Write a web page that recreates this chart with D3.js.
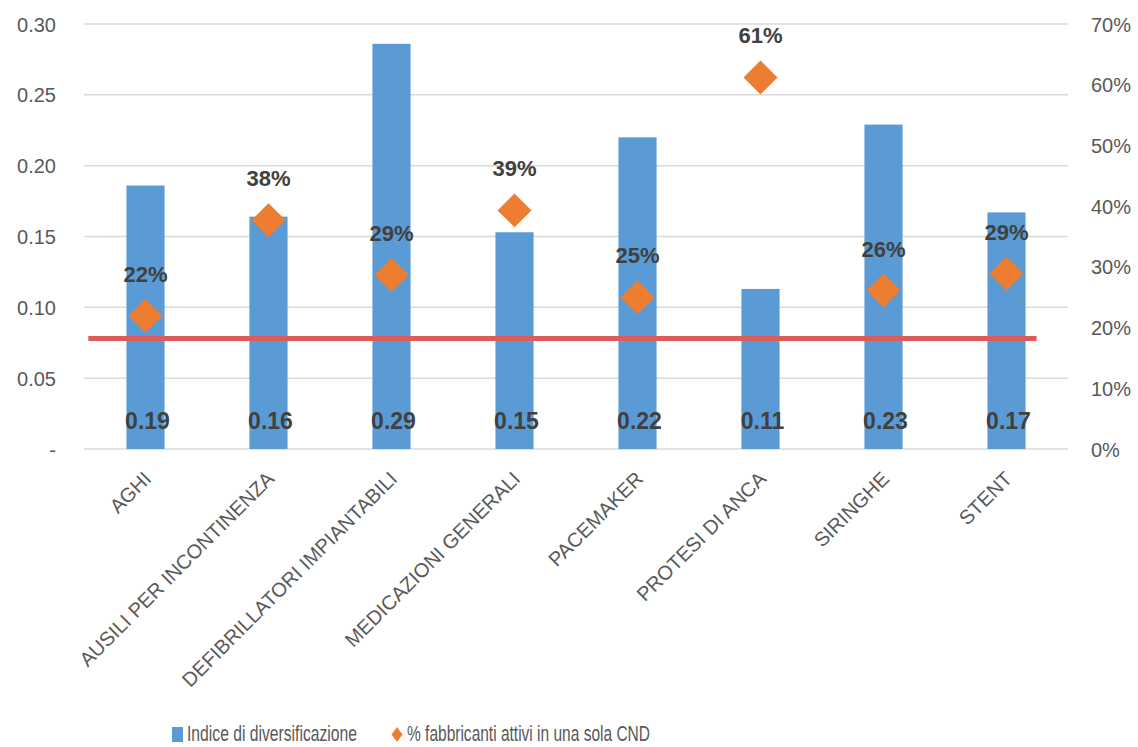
<!DOCTYPE html>
<html>
<head>
<meta charset="utf-8">
<script src="https://cdn.jsdelivr.net/npm/d3@7"></script>
<style>
  body { margin: 0; background: #fff; }
  svg { display: block; font-family: 'Liberation Sans', Arial, sans-serif; }
</style>
</head>
<body>
<svg id="chart" width="1138" height="747"></svg>
<script>
// categorie CND
const categories = ['AGHI', 'AUSILI PER INCONTINENZA', 'DEFIBRILLATORI IMPIANTABILI',
    'MEDICAZIONI GENERALI', 'PACEMAKER', 'PROTESI DI ANCA', 'SIRINGHE', 'STENT']
// indice di diversificazione (asse sinistro)
const indice = [0.186, 0.164, 0.286, 0.153, 0.220, 0.113, 0.229, 0.167]
// % fabbricanti attivi in una sola CND (asse destro)
const quota = [0.219, 0.377, 0.287, 0.393, 0.250, 0.612, 0.261, 0.289]
// linea di riferimento sull'indice
const soglia = 0.078
const leftTicks = [0, 0.05, 0.10, 0.15, 0.20, 0.25, 0.30]
const rightTicks = [0, 0.1, 0.2, 0.3, 0.4, 0.5, 0.6, 0.7]
const legendLabels = ['Indice di diversificazione', '% fabbricanti attivi in una sola CND']

const BLUE = '#5b9bd5', ORANGE = '#ed7d31', RED = '#dc5c5c'

let svg = d3.select('#chart')
let plotLeft = 84, plotRight = 1068, plotTop = 24, plotBottom = 449

let x = d3.scaleBand().domain(categories).range([plotLeft, plotRight])
    .paddingInner(0.69).paddingOuter(0.345)
let y = d3.scaleLinear().domain([0, 0.30]).range([plotBottom, plotTop])
let y2 = d3.scaleLinear().domain([0, 0.70]).range([plotBottom, plotTop])

// griglia
svg.append('g')
    .selectAll('line')
    .data(leftTicks)
    .enter()
    .append('line')
    .attr('x1', plotLeft).attr('x2', plotRight)
    .attr('y1', d => y(d)).attr('y2', d => y(d))
    .attr('stroke', '#d9d9d9')
    .attr('stroke-width', 1.5)

// asse sinistro
let yAxis = svg.append('g')
    .attr('transform', 'translate(' + (plotLeft - 28) + ',0)')
    .call(d3.axisLeft(y).tickValues(leftTicks).tickSize(0)
        .tickFormat(d => d === 0 ? '-' : d3.format('.2f')(d)))
yAxis.select('.domain').remove()
yAxis.selectAll('text')
    .attr('font-size', 20).attr('fill', '#595959')
    .attr('font-family', "'Liberation Sans', Arial, sans-serif")
    .attr('dy', '0.35em').attr('x', 0)

// asse destro
let y2Axis = svg.append('g')
    .attr('transform', 'translate(' + (plotRight + 23) + ',0)')
    .call(d3.axisRight(y2).tickValues(rightTicks).tickSize(0)
        .tickFormat(d3.format('.0%')))
y2Axis.select('.domain').remove()
y2Axis.selectAll('text')
    .attr('font-size', 20).attr('fill', '#595959')
    .attr('font-family', "'Liberation Sans', Arial, sans-serif")
    .attr('dy', '0.35em').attr('x', 0)

// etichette categorie
svg.append('g')
    .selectAll('text')
    .data(categories)
    .enter()
    .append('text')
    .attr('transform', d => 'translate(' + (x(d) + x.bandwidth() / 2 + 7) + ',' + (plotBottom + 31) + ') rotate(-45)')
    .attr('text-anchor', 'end')
    .attr('font-size', 20)
    .attr('fill', '#595959')
    .text(d => d)

// barre
svg.append('g')
    .selectAll('rect')
    .data(categories)
    .enter()
    .append('rect')
    .attr('x', d => x(d))
    .attr('y', (d, i) => y(indice[i]))
    .attr('width', x.bandwidth())
    .attr('height', (d, i) => y(0) - y(indice[i]))
    .attr('fill', BLUE)

// linea di riferimento
svg.append('line')
    .attr('x1', x(categories[0]) - x.bandwidth())
    .attr('x2', x(categories[categories.length - 1]) + x.bandwidth() + 11)
    .attr('y1', y(soglia)).attr('y2', y(soglia))
    .attr('stroke', RED)
    .attr('stroke-width', 5)

// valori barre
svg.append('g')
    .selectAll('text')
    .data(categories)
    .enter()
    .append('text')
    .attr('x', d => x(d) + x.bandwidth() / 2 + 2)
    .attr('y', plotBottom - 20)
    .attr('text-anchor', 'middle')
    .attr('font-size', 23)
    .attr('font-weight', 'bold')
    .attr('fill', '#404040')
    .text((d, i) => d3.format('.2f')(indice[i]))

// rombi
let diamond = d3.symbol().type(d3.symbolSquare).size(24 * 24)
svg.append('g')
    .selectAll('path')
    .data(categories)
    .enter()
    .append('path')
    .attr('d', diamond)
    .attr('transform', (d, i) => 'translate(' + (x(d) + x.bandwidth() / 2) + ',' + y2(quota[i]) + ') rotate(45)')
    .attr('fill', ORANGE)

// etichette percentuali
svg.append('g')
    .selectAll('text')
    .data(categories)
    .enter()
    .append('text')
    .attr('x', d => x(d) + x.bandwidth() / 2)
    .attr('y', (d, i) => y2(quota[i]) - 34)
    .attr('text-anchor', 'middle')
    .attr('font-size', 22)
    .attr('font-weight', 'bold')
    .attr('fill', '#404040')
    .text((d, i) => d3.format('.0%')(quota[i]))

// legenda
let legend = svg.append('g')
legend.append('rect')
    .attr('x', 172).attr('y', 727)
    .attr('width', 11).attr('height', 15)
    .attr('fill', BLUE)
legend.append('path')
    .attr('d', 'M397,727 L402.5,734.5 L397,742 L391.5,734.5 Z')
    .attr('fill', ORANGE)
legend.selectAll('text')
    .data(legendLabels)
    .enter()
    .append('text')
    .attr('x', (d, i) => i === 0 ? 187 : 407)
    .attr('y', 741)
    .attr('font-size', 22)
    .attr('fill', '#595959')
    .attr('textLength', (d, i) => i === 0 ? 170 : 243)
    .attr('lengthAdjust', 'spacingAndGlyphs')
    .text(d => d)
</script>
</body>
</html>
